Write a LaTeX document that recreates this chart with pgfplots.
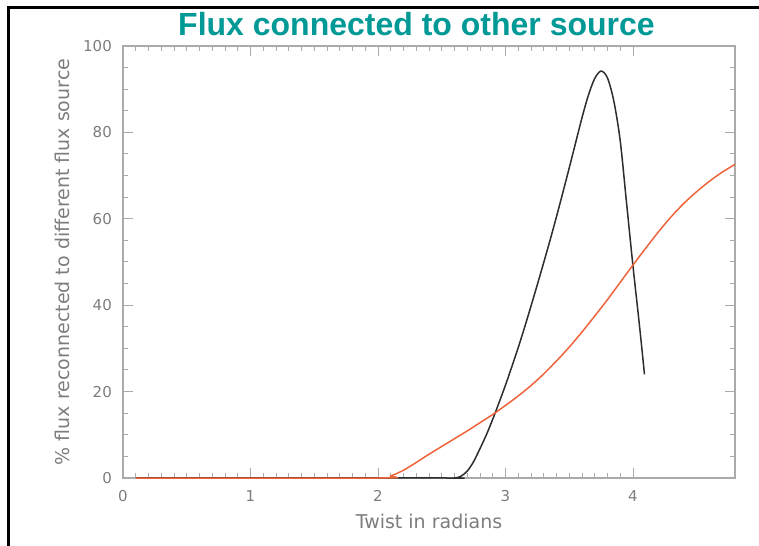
\documentclass[border=0pt]{standalone}
\usepackage{pgfplots}
\pgfplotsset{compat=1.18}
\usepackage{fontspec}
\setmainfont{DejaVu Sans}
\newfontfamily\titlefont{Liberation Sans}
\definecolor{titleteal}{RGB}{0,153,150}
\definecolor{axisgray}{RGB}{170,170,170}
\definecolor{labelgray}{RGB}{125,125,125}
\definecolor{curvedark}{RGB}{45,45,45}
\definecolor{curvered}{RGB}{240,100,60}

% Fraction of flux reconnected to the other source, black run
\pgfplotstableread{
x y
0.10 0
2.50 0
2.60 0
2.65 0.4
2.70 1.6
2.75 3.8
2.80 6.8
2.85 10.0
2.90 13.6
2.95 17.5
3.00 21.5
3.05 25.8
3.10 30.2
3.15 34.9
3.20 39.8
3.25 44.8
3.30 49.9
3.35 55.1
3.40 60.5
3.45 66.1
3.50 71.8
3.55 77.6
3.60 83.4
3.65 88.6
3.70 92.5
3.75 94.2
3.80 92.6
3.85 87.2
3.90 78.0
3.95 63.5
4.00 49.0
4.05 35.5
4.09 24.0
}\blackrun

% Fraction of flux reconnected to the other source, red run
\pgfplotstableread{
x y
0.10 0
2.00 0
2.10 0.5
2.20 1.8
2.30 3.6
2.40 5.5
2.50 7.3
2.60 9.1
2.70 10.9
2.80 12.8
2.90 14.7
3.00 16.8
3.10 19.0
3.20 21.4
3.30 24.1
3.40 27.1
3.50 30.3
3.60 33.8
3.70 37.5
3.80 41.3
3.90 45.3
4.00 49.3
4.10 53.2
4.20 57.0
4.30 60.5
4.40 63.6
4.50 66.3
4.60 68.7
4.70 70.8
4.80 72.6
}\redrun

\begin{document}
\begin{tikzpicture}
\path[use as bounding box] (0,0) rectangle (759bp,546bp);
% page frame
\draw[line width=2.6bp, black] (8.5bp,0) -- (8.5bp,538.5bp) -- (759bp,538.5bp);
% title
\node[anchor=base, text=titleteal, font=\titlefont\bfseries\fontsize{32bp}{36bp}\selectfont]
  at (416.5bp,510bp) {Flux connected to other source};
\begin{axis}[
  at={(123bp,68bp)}, anchor=south west,
  width=612bp, height=432bp, scale only axis,
  xmin=0, xmax=4.8, ymin=0, ymax=100,
  xtick={0,1,2,3,4}, ytick={0,20,40,60,80,100},
  minor x tick num=9, minor y tick num=3,
  tick pos=both, tick align=inside,
  major tick length=10bp, minor tick length=5bp,
  axis line style={axisgray, line width=1.3bp},
  every tick/.style={axisgray, line width=1bp},
  /pgf/number format/assume math mode=true,
  tick label style={text=labelgray, font=\fontsize{15bp}{18bp}\selectfont, inner sep=0pt},
  xticklabel style={anchor=north, yshift=-12bp},
  yticklabel style={anchor=east, xshift=-11bp},
  xlabel={Twist in radians},
  ylabel={\% flux reconnected to different flux source},
  every axis x label/.style={at={([yshift=-50bp]axis description cs:0.5,0)}, anchor=base,
    text=labelgray, font=\fontsize{19bp}{22bp}\selectfont},
  every axis y label/.style={at={([xshift=-53bp]axis description cs:0,0.5)}, anchor=base, rotate=90,
    text=labelgray, font=\fontsize{19bp}{22bp}\selectfont},
  clip=false,
]
\addplot[curvedark, line width=1.5bp, smooth, tension=0.5] table[x=x, y=y] {\blackrun};
\addplot[curvered, line width=1.5bp, smooth, tension=0.5] table[x=x, y=y] {\redrun};
\end{axis}
\end{tikzpicture}
\end{document}
